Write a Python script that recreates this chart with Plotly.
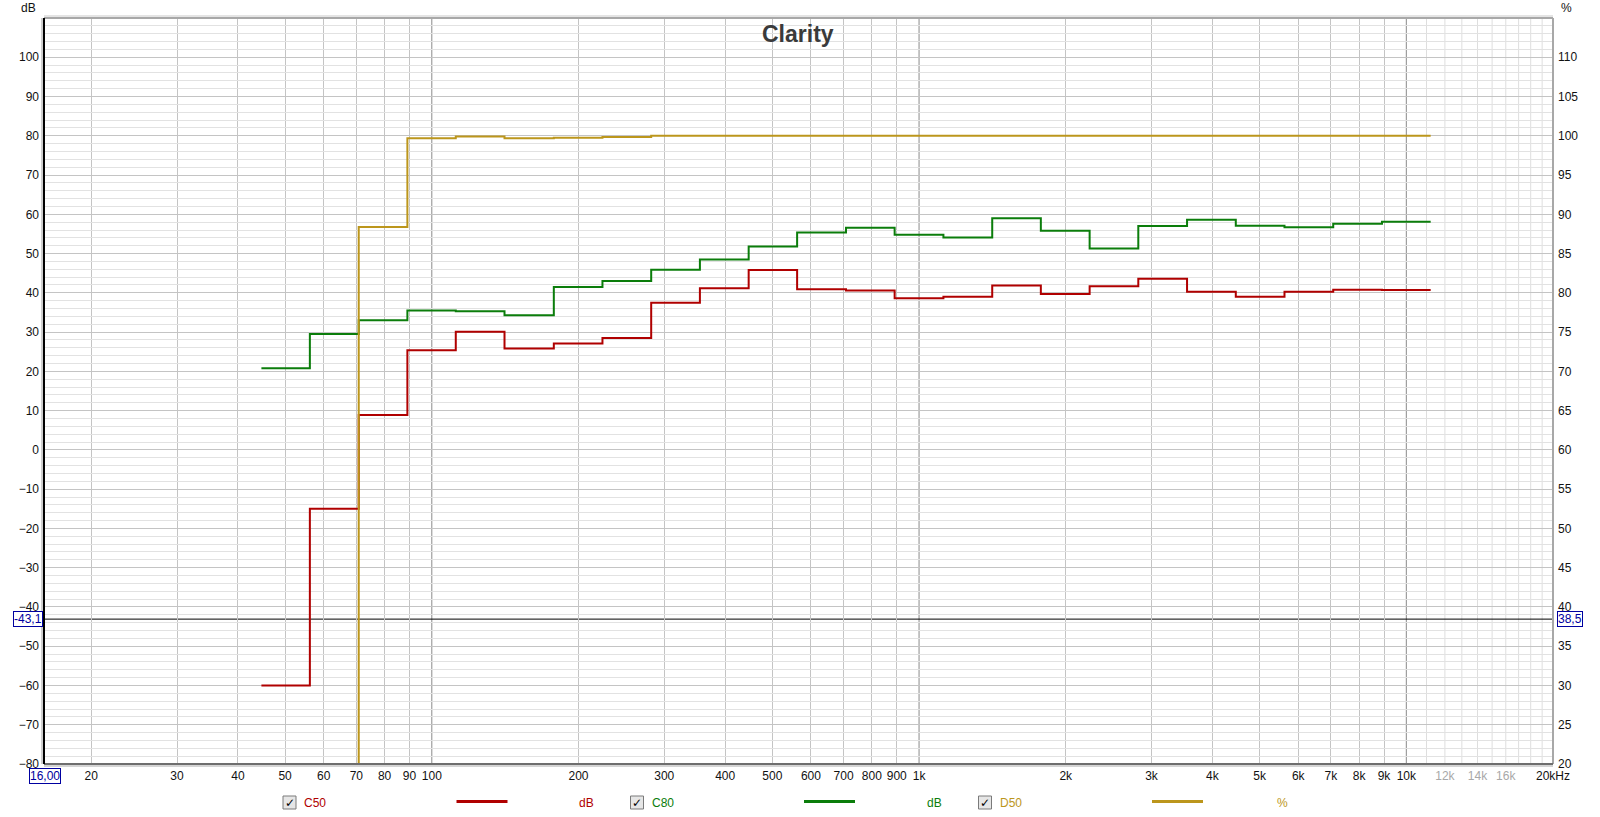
import plotly.graph_objects as go

# ---------------- data ----------------
band_centers = [50, 63, 80, 100, 125, 160, 200, 250, 315, 400, 500, 630, 800,
                1000, 1250, 1600, 2000, 2500, 3150, 4000, 5000, 6300, 8000, 10000]
band_edges = [44.7, 56.2, 70.8, 89.1, 112, 141, 178, 224, 282, 355, 447, 562, 708,
              891, 1122, 1413, 1778, 2239, 2818, 3548, 4467, 5623, 7079, 8913, 11220]

c50_db = [-60.0, -15.0, 8.9, 25.4, 30.1, 25.8, 27.1, 28.5, 37.5, 41.2, 45.8, 40.9,
          40.6, 38.6, 39.0, 41.9, 39.7, 41.7, 43.6, 40.3, 39.0, 40.3, 40.8, 40.7]
c80_db = [20.8, 29.5, 33.0, 35.5, 35.3, 34.3, 41.5, 43.0, 45.9, 48.5, 51.8, 55.4,
          56.6, 54.8, 54.1, 59.0, 55.8, 51.3, 57.0, 58.6, 57.1, 56.7, 57.6, 58.1]
d50_pct = [0.0, 0.0, 88.4, 99.7, 99.9, 99.7, 99.75, 99.85, 100.0, 100.0, 100.0, 100.0,
           100.0, 100.0, 100.0, 100.0, 100.0, 100.0, 100.0, 100.0, 100.0, 100.0, 100.0, 100.0]

x_tick_vals = [20, 30, 40, 50, 60, 70, 80, 90, 100, 200, 300, 400, 500, 600, 700, 800, 900,
               1000, 2000, 3000, 4000, 5000, 6000, 7000, 8000, 9000, 10000,
               12000, 14000, 16000, 20000]
x_tick_text = ["20", "30", "40", "50", "60", "70", "80", "90", "100", "200", "300", "400",
               "500", "600", "700", "800", "900", "1k", "2k", "3k", "4k", "5k", "6k", "7k",
               "8k", "9k", "10k", "12k", "14k", "16k", "20kHz"]
x_faint_labels = ["12k", "14k", "16k"]
x_grid_minor = [20, 30, 40, 50, 60, 70, 80, 90, 200, 300, 400, 500, 600, 700, 800, 900,
                2000, 3000, 4000, 5000, 6000, 7000, 8000, 9000]
x_grid_decades = [100, 1000, 10000]
x_grid_high = [11000, 12000, 13000, 14000, 15000, 16000, 17000, 18000, 19000]

y_left_ticks = list(range(-80, 101, 10))
y_right_ticks = list(range(20, 111, 5))

cursor_db = -43.1
cursor_left_label = "-43,1"
cursor_right_label = "38,5"
cursor_freq_label = "16,00"

series_names = ["C50", "C80", "D50"]
series_units = ["dB", "dB", "%"]
series_colors = ["#b00000", "#0b7d0b", "#bc961c"]

# ---------------- geometry ----------------
W, H = 1600, 817
L, R, T, B = 44, 47, 18, 53
PW, PH = W - L - R, H - T - B


def px(xp):
    return (xp - L) / PW


def py(yp):
    return (H - B - yp) / PH


fig = go.Figure()


def step_xy(vals):
    return band_edges, list(vals) + [vals[-1]]


for name, vals, col, yax in [("C50", c50_db, series_colors[0], "y"),
                             ("C80", c80_db, series_colors[1], "y"),
                             ("D50", d50_pct, series_colors[2], "y2")]:
    xs, ys = step_xy(vals)
    fig.add_trace(go.Scatter(x=xs, y=ys, mode="lines", line=dict(color=col, width=2, shape="hv"),
                             name=name, yaxis=yax, showlegend=False, hoverinfo="x+y"))

ticktext = [f'<span style="color:#a8a8a8">{t}</span>' if t in x_faint_labels else t
            for t in x_tick_text]

font_family = "Liberation Sans, Arial, sans-serif"

fig.update_layout(
    width=W, height=H,
    margin=dict(l=L, r=R, t=T, b=B, autoexpand=False),
    paper_bgcolor="white", plot_bgcolor="white",
    font=dict(family=font_family, size=12, color="#111111"),
    showlegend=False,
    xaxis=dict(type="log", range=[1.20412, 4.30103], tickmode="array",
               tickvals=x_tick_vals, ticktext=ticktext, showgrid=False, ticks="",
               ticklabelstandoff=3, zeroline=False, showline=False, automargin=False,
               minor=dict(tickmode="array", tickvals=x_grid_minor, showgrid=True,
                          gridcolor="#c4c4c4", gridwidth=1, ticks="")),
    yaxis=dict(range=[-80, 110], tickmode="array", tickvals=y_left_ticks, showgrid=True,
               gridcolor="#c4c4c4", gridwidth=1, zeroline=False, ticks="",
               ticklabelstandoff=4, showline=False, automargin=False,
               minor=dict(dtick=2, showgrid=True, gridcolor="#e2e2e2", gridwidth=1, ticks="")),
    yaxis2=dict(range=[20, 115], overlaying="y", side="right", tickmode="array",
                tickvals=y_right_ticks, showgrid=False, zeroline=False, ticks="",
                ticklabelstandoff=4, showline=False, automargin=False),
)

shapes = []
# decade gridlines (darker)
for f in x_grid_decades:
    shapes.append(dict(type="line", xref="x", yref="paper", x0=f, x1=f, y0=0, y1=1,
                       line=dict(color="#8a8a8a", width=1), layer="between"))
# light gridlines above 10k
for f in x_grid_high:
    shapes.append(dict(type="line", xref="x", yref="paper", x0=f, x1=f, y0=0, y1=1,
                       line=dict(color="#dedede", width=1), layer="below"))
# cursor line
shapes.append(dict(type="line", xref="paper", yref="y", x0=0, x1=1, y0=cursor_db, y1=cursor_db,
                   line=dict(color="#000000", width=1), layer="between"))
# frame
shapes += [
    dict(type="line", xref="paper", yref="paper", x0=0, x1=1, y0=1 + 2 / PH, y1=1 + 2 / PH,
         line=dict(color="#e4e4e4", width=2)),
    dict(type="line", xref="paper", yref="paper", x0=0, x1=1, y0=1, y1=1,
         line=dict(color="#a8a8a8", width=2)),
    dict(type="line", xref="paper", yref="paper", x0=1, x1=1, y0=0, y1=1,
         line=dict(color="#a8a8a8", width=2)),
    dict(type="line", xref="paper", yref="paper", x0=0, x1=1, y0=-2 / PH, y1=-2 / PH,
         line=dict(color="#d4d4d4", width=2)),
    dict(type="line", xref="paper", yref="paper", x0=0, x1=1, y0=0, y1=0,
         line=dict(color="#6e6e6e", width=2)),
    dict(type="line", xref="paper", yref="paper", x0=-2 / PW, x1=-2 / PW, y0=0, y1=1,
         line=dict(color="#cfcfcf", width=2)),
    dict(type="line", xref="paper", yref="paper", x0=0, x1=0, y0=0, y1=1,
         line=dict(color="#000000", width=2)),
]

annotations = [
    dict(text="<b>Clarity</b>", xref="paper", yref="paper", x=px(798), y=py(34),
         xanchor="center", yanchor="middle", showarrow=False,
         font=dict(size=23, color="#3a3a3a", family=font_family)),
    dict(text="dB", xref="paper", yref="paper", x=px(38), y=py(8), xanchor="right",
         yanchor="middle", showarrow=False, font=dict(size=12, color="#111111")),
    dict(text="%", xref="paper", yref="paper", x=px(1559), y=py(8), xanchor="left",
         yanchor="middle", showarrow=False, font=dict(size=12, color="#111111")),
    dict(text=cursor_left_label, xref="paper", yref="y", x=px(43), y=cursor_db, xanchor="right",
         yanchor="middle", showarrow=False, bordercolor="#0000a0", borderwidth=1, borderpad=0,
         bgcolor="white", font=dict(size=12, color="#0000a0")),
    dict(text=cursor_right_label, xref="paper", yref="y", x=px(1557), y=cursor_db, xanchor="left",
         yanchor="middle", showarrow=False, bordercolor="#0000a0", borderwidth=1, borderpad=0,
         bgcolor="white", font=dict(size=12, color="#0000a0")),
    dict(text=cursor_freq_label, xref="paper", yref="paper", x=px(44.5), y=py(776),
         xanchor="center", yanchor="middle", showarrow=False, bordercolor="#0000a0",
         borderwidth=1, borderpad=0, bgcolor="white", font=dict(size=12, color="#0000a0")),
]

# custom legend row
leg_y = 802.5
for i, (name, unit, col) in enumerate(zip(series_names, series_units, series_colors)):
    cb = [289.5, 637, 985][i]
    shapes.append(dict(type="rect", xref="paper", yref="paper", x0=px(cb - 6.5), x1=px(cb + 6.5),
                       y0=py(leg_y + 6.5), y1=py(leg_y - 6.5),
                       line=dict(color="#7a7a7a", width=1), fillcolor="#e6e6e6"))
    annotations.append(dict(text="<b>✓</b>", xref="paper", yref="paper", x=px(cb), y=py(leg_y),
                            xanchor="center", yanchor="middle", showarrow=False,
                            font=dict(size=12, color="#000000", family="DejaVu Sans")))
    annotations.append(dict(text=name, xref="paper", yref="paper", x=px(cb + 12.5), y=py(leg_y),
                            xanchor="left", yanchor="middle", showarrow=False,
                            font=dict(size=12, color=col)))
    shapes.append(dict(type="line", xref="paper", yref="paper", x0=px(cb + 167), x1=px(cb + 218),
                       y0=py(leg_y - 1), y1=py(leg_y - 1), line=dict(color=col, width=3)))
    annotations.append(dict(text=unit, xref="paper", yref="paper", x=px(cb + 297), y=py(leg_y),
                            xanchor="center", yanchor="middle", showarrow=False,
                            font=dict(size=12, color=col)))

fig.update_layout(shapes=shapes, annotations=annotations)
fig.write_html("out.html",
               config={"displayModeBar": False},
               post_script="document.body.style.margin='0';document.body.style.overflow='hidden';")
